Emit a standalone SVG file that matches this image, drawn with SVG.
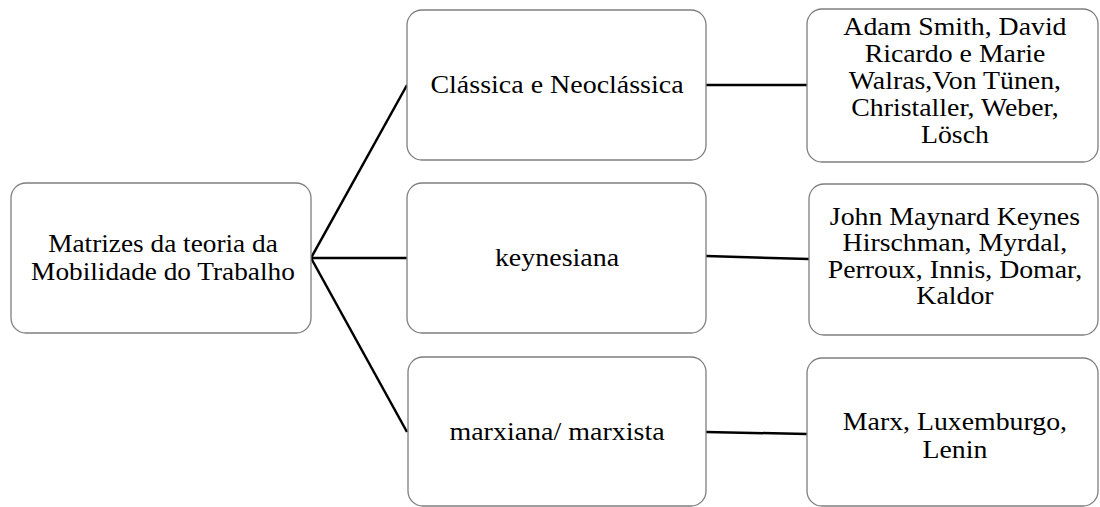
<svg xmlns="http://www.w3.org/2000/svg" width="1100" height="507" viewBox="0 0 1100 507">
<style>
.box{fill:#fff;stroke:#7f7f7f;stroke-width:1.3}
text{font-family:'Liberation Serif','Times New Roman',serif;fill:#000;text-anchor:middle;font-size:26px}
.c{stroke:#000;stroke-width:2.5;fill:none}
</style>
<g id="connectors">
<line class="c" x1="311" y1="258" x2="407" y2="85"/>
<line class="c" x1="311" y1="258" x2="407" y2="258"/>
<line class="c" x1="311" y1="258" x2="407" y2="432"/>
<line class="c" x1="706" y1="85" x2="807" y2="85"/>
<line class="c" x1="706" y1="256" x2="809" y2="259"/>
<line class="c" x1="706" y1="432" x2="807" y2="434"/>
</g>
<g id="root">
<rect class="box" x="11" y="183" width="300" height="150" rx="15"/>
<g transform="matrix(1.05 0 0 1 -8.15 0)">
<text x="163" y="252">Matrizes da teoria da</text>
<text x="163" y="280">Mobilidade do Trabalho</text>
</g>
</g>
<g id="classica">
<rect class="box" x="407" y="10" width="299" height="150" rx="15"/>
<text x="557" y="93" transform="matrix(1.076 0 0 1 -42.3 0)">Clássica e Neoclássica</text>
</g>
<g id="keynesiana">
<rect class="box" x="407" y="183" width="299" height="150" rx="15"/>
<text x="557" y="266" transform="matrix(1.076 0 0 1 -42.3 0)">keynesiana</text>
</g>
<g id="marxiana">
<rect class="box" x="408" y="357" width="298" height="149" rx="15"/>
<text x="557" y="440" transform="matrix(1.076 0 0 1 -42.3 0)">marxiana/ marxista</text>
</g>
<g id="autores-classica">
<rect class="box" x="807" y="9" width="291" height="153" rx="15"/>
<g transform="matrix(1.07 0 0 1 -66.9 0)">
<text x="955" y="35">Adam Smith, David</text>
<text x="955" y="62">Ricardo e Marie</text>
<text x="955" y="89">Walras,Von Tünen,</text>
<text x="955" y="116">Christaller, Weber,</text>
<text x="955" y="143">Lösch</text>
</g>
</g>
<g id="autores-keynesiana">
<rect class="box" x="809" y="184" width="289" height="151" rx="15"/>
<g transform="matrix(1.07 0 0 1 -66.9 0)">
<text x="955" y="225">John Maynard Keynes</text>
<text x="955" y="251.5">Hirschman, Myrdal,</text>
<text x="955" y="278">Perroux, Innis, Domar,</text>
<text x="955" y="304.5">Kaldor</text>
</g>
</g>
<g id="autores-marxiana">
<rect class="box" x="807" y="358" width="291" height="148" rx="15"/>
<g transform="matrix(1.07 0 0 1 -66.9 0)">
<text x="955" y="430">Marx, Luxemburgo,</text>
<text x="955" y="458">Lenin</text>
</g>
</g>
</svg>
